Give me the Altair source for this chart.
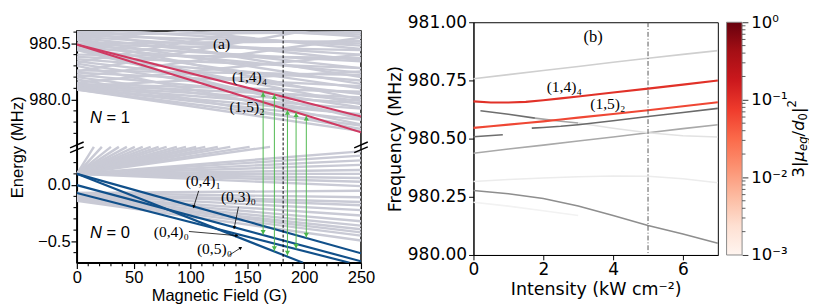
import altair as alt
import pandas as pd

# =====================================================================
# Panel (a): hyperfine/Zeeman levels vs magnetic field, broken energy axis
# =====================================================================
SHIFT = 979.24          # N = 1 energies are drawn at (E - SHIFT) on the broken axis
BREAK = 0.34            # display value where the axis is broken
Y_DOMAIN = [-0.69, 1.37]

# --- grey N = 1 manifold: energy (MHz) at B = 0 and B = 250 G
N1_E0 = [980.09, 980.09, 980.10, 980.10, 980.11, 980.12, 980.13, 980.14,
         980.18, 980.20, 980.22, 980.24, 980.26,
         980.30, 980.32, 980.34, 980.36, 980.38, 980.40,
         980.44, 980.45, 980.46, 980.47, 980.48, 980.49, 980.50,
         980.53, 980.54, 980.55, 980.56, 980.57, 980.58, 980.59,
         980.61, 980.62, 980.63, 980.64, 980.66, 980.70, 980.72,
         980.15, 980.20, 980.25, 980.33, 980.12]
N1_E1 = [979.72, 979.77, 979.82, 979.87, 979.92, 979.97, 980.02, 980.07,
         979.74, 979.86, 979.99, 980.12, 980.22,
         979.78, 979.93, 980.05, 980.17, 980.28, 980.37,
         979.83, 979.96, 980.10, 980.24, 980.34, 980.44, 980.52,
         980.00, 980.14, 980.28, 980.40, 980.50, 980.60, 980.70,
         980.20, 980.35, 980.48, 980.58, 980.68, 980.45, 980.56,
         980.40, 980.55, 980.70, 980.80, 980.25]

# --- grey N = 0 manifold
N0_FAN_START = 0.10                                        # lines that run into the break
N0_FAN_TOP_B = [15, 22, 30, 37, 44, 51, 58, 65, 72, 79, 88, 96, 105, 113, 124, 135, 152, 170]
N0_E0 = [0.10, 0.10, 0.10, 0.10, 0.10, 0.10, 0.10, 0.10, 0.10,
         -0.07, -0.07, -0.08, -0.08, -0.09, -0.10, -0.10, -0.11, -0.12, -0.12, -0.13, -0.14]
N0_E1 = [0.30, 0.262, 0.22, 0.18, 0.134, 0.10, 0.063, 0.03, -0.009,
         -0.05, -0.108, -0.15, -0.179, -0.222, -0.27, -0.321, -0.36, -0.392, -0.42, -0.449, -0.492]

# --- highlighted states
RED_B = [[0, 250], [0, 50, 250]]
RED_E = [[980.49, 979.85], [980.49, 980.33, 979.71]]          # (1,4)4 and (1,5)2
BLUE_B = [[0, 250], [0, 250], [0, 240], [0, 199]]
BLUE_E = [[0.10, -0.606], [0.0, -0.677], [-0.07, -0.69], [0.10, -0.69]]

# --- green transitions
ARROW_B = [163.9, 173.8, 185.3, 192.9, 201.9]
ARROW_E_UP = [980.07, 980.05, 979.91, 979.89, 979.86]
ARROW_E_LOW = [-0.444, -0.59, -0.63, -0.57, -0.47]
B_MARK = 181.5

# --- labels
LAB_TEXT = ["(a)", "(1,4)₄", "(1,5)₂", "(0,4)₁", "(0,3)₀", "(0,4)₀", "(0,5)₀"]
LAB_B = [127.3, 152.0, 149.7, 111.2, 142.2, 83.1, 121.1]
LAB_E = [980.49, 980.20, 979.936, 0.034, -0.108, -0.421, -0.568]
LAB_N = [1, 1, 1, 0, 0, 0, 0]

MAN_B = [11.6, 11.6]
MAN_E = [979.833, -0.427]
MAN_N = [1, 0]
MAN_VAL = ["= 1", "= 0"]

PTR_B0 = [107.2, 142.2, 98.6, 133.8]
PTR_E0 = [-0.051, -0.193, -0.412, -0.625]
PTR_B1 = [102.8, 138.5, 140.8, 144.2]
PTR_E1 = [-0.193, -0.378, -0.449, -0.557]
PTR_ANGLE = [197, 192, 95, 57]

# axis ticks (display coordinates for y)
X_MAJOR = [0, 50, 100, 150, 200, 250]
X_MINOR = [v for v in range(10, 250, 10) if v % 50]
Y_MAJOR_E = [(-0.5, 0), (0.0, 0), (980.0, 1), (980.5, 1)]
Y_MINOR_E = [(-0.6, 0), (-0.4, 0), (-0.3, 0), (-0.2, 0), (-0.1, 0), (0.1, 0), (0.2, 0),
             (979.7, 1), (979.8, 1), (979.9, 1), (980.1, 1), (980.2, 1), (980.3, 1), (980.4, 1),
             (980.6, 1)]


def disp(e, n):
    return round(e - SHIFT, 5) if n == 1 else e


rows = []
for i, (e0, e1) in enumerate(zip(N1_E0, N1_E1)):
    rows.append({"lid": f"t{i}", "B": 0, "y": disp(e0, 1)})
    rows.append({"lid": f"t{i}", "B": 250, "y": disp(e1, 1)})
for i, bt in enumerate(N0_FAN_TOP_B):
    rows.append({"lid": f"f{i}", "B": 0, "y": N0_FAN_START})
    rows.append({"lid": f"f{i}", "B": bt, "y": BREAK})
for i, (e0, e1) in enumerate(zip(N0_E0, N0_E1)):
    rows.append({"lid": f"b{i}", "B": 0, "y": e0})
    rows.append({"lid": f"b{i}", "B": 250, "y": e1})
gray_a = pd.DataFrame(rows)

red_a = pd.DataFrame([{"lid": f"r{i}", "B": b, "y": disp(e, 1)}
                      for i, (bs, es) in enumerate(zip(RED_B, RED_E))
                      for b, e in zip(bs, es)])
blue_a = pd.DataFrame([{"lid": f"u{i}", "B": b, "y": e}
                       for i, (bs, es) in enumerate(zip(BLUE_B, BLUE_E))
                       for b, e in zip(bs, es)])
arrows_rule = pd.DataFrame({"B": ARROW_B, "y": ARROW_E_LOW,
                            "y_hi": [disp(e, 1) for e in ARROW_E_UP]})
arrows_top = pd.DataFrame({"B": ARROW_B, "y": [disp(e, 1) for e in ARROW_E_UP]})
arrows_bot = pd.DataFrame({"B": ARROW_B, "y": ARROW_E_LOW})
labels_a = pd.DataFrame({"B": LAB_B, "y": [disp(e, n) for e, n in zip(LAB_E, LAB_N)],
                         "t": LAB_TEXT})
man_a = pd.DataFrame({"B": MAN_B, "y": [disp(e, n) for e, n in zip(MAN_E, MAN_N)],
                      "v": MAN_VAL})
ptr_line = pd.DataFrame({"B": PTR_B0, "y": PTR_E0, "B2": PTR_B1, "y2": PTR_E1})
ptr_tip = pd.DataFrame({"B": PTR_B1, "y": PTR_E1, "ang": PTR_ANGLE})
brk_a = pd.DataFrame({"B": [0, 250], "y": [BREAK, BREAK]})
mark_a = pd.DataFrame({"B": [B_MARK]})
xminor_a = pd.DataFrame({"B": X_MINOR})
yminor_a = pd.DataFrame({"y": [disp(e, n) for e, n in Y_MINOR_E]})

Y_MAJOR = [disp(e, n) for e, n in Y_MAJOR_E]

SANS_A = "Liberation Sans"
SERIF = "Liberation Serif"
H_A, W_A = 239, 293

x_a = alt.X("B:Q", scale=alt.Scale(domain=[0, 250], nice=False, zero=False),
            axis=alt.Axis(values=X_MAJOR, title="Magnetic Field (G)", format="d",
                          labelFont=SANS_A, titleFont=SANS_A, labelFontSize=17, titleFontSize=17,
                          titleFontWeight="normal", labelColor="black", titleColor="black",
                          domainColor="black", tickColor="black", domainWidth=1.5, tickWidth=1.2,
                          tickSize=6, labelPadding=1, titlePadding=3, labelOverlap=False,
                          labelFlush=False, grid=False))
y_a = alt.Y("y:Q", scale=alt.Scale(domain=Y_DOMAIN, nice=False, zero=False),
            axis=alt.Axis(values=Y_MAJOR, title="Energy (MHz)",
                          labelExpr=(f"datum.value > {BREAK} ? format(datum.value + {SHIFT}, '.1f') "
                                     f": format(datum.value, '.1f')"),
                          labelFont=SANS_A, titleFont=SANS_A, labelFontSize=17, titleFontSize=17,
                          titleFontWeight="normal", labelColor="black", titleColor="black",
                          domainColor="black", tickColor="black", domainWidth=1.5, tickWidth=1.2,
                          tickSize=6, labelPadding=1, titlePadding=2, labelOverlap=False,
                          labelFlush=False, grid=False))

GRAY = "#c9cad5"
RED = "#cf3a62"
BLUE = "#11508a"
GREEN = "#4cb84c"

layers_a = [
    alt.Chart(gray_a).mark_line(color=GRAY, strokeWidth=2.5, clip=True).encode(
        x=x_a, y=y_a, detail="lid:N"),
    alt.Chart(red_a).mark_line(color=RED, strokeWidth=2.2, clip=True).encode(
        x=x_a, y=y_a, detail="lid:N"),
    alt.Chart(blue_a).mark_line(color=BLUE, strokeWidth=2.2, clip=True).encode(
        x=x_a, y=y_a, detail="lid:N"),
    alt.Chart(arrows_rule).mark_rule(color=GREEN, strokeWidth=1).encode(
        x=x_a, y=y_a, y2="y_hi:Q"),
    alt.Chart(arrows_top).mark_point(shape="triangle-up", filled=True, opacity=1,
                                     color=GREEN, size=28, yOffset=3).encode(x=x_a, y=y_a),
    alt.Chart(arrows_bot).mark_point(shape="triangle-down", filled=True, opacity=1,
                                     color=GREEN, size=28, yOffset=-3).encode(x=x_a, y=y_a),
    alt.Chart(mark_a).mark_rule(color="black", strokeWidth=1, strokeDash=[3, 2]).encode(x=x_a),
    alt.Chart(ptr_line).mark_rule(color="black", strokeWidth=0.8).encode(
        x=x_a, y=y_a, x2="B2:Q", y2="y2:Q"),
    alt.Chart(ptr_tip).mark_point(shape="triangle-up", filled=True, opacity=1,
                                  color="black", size=14).encode(
        x=x_a, y=y_a, angle=alt.Angle("ang:Q", scale=None)),
    alt.Chart(labels_a).mark_text(font=SERIF, fontSize=16, color="black").encode(
        x=x_a, y=y_a, text="t:N"),
    alt.Chart(man_a).mark_text(font=SANS_A, fontSize=17, fontStyle="italic", align="left",
                               color="black").encode(x=x_a, y=y_a, text=alt.value("N")),
    alt.Chart(man_a).mark_text(font=SANS_A, fontSize=17, align="left", dx=17,
                               color="black").encode(x=x_a, y=y_a, text="v:N"),
    # axis breaks
    alt.Chart(brk_a).mark_rule(color="black", strokeWidth=1.5, xOffset=-7, x2Offset=7,
                               yOffset=1, y2Offset=-5).encode(x=x_a, y=y_a, x2="B:Q", y2="y:Q"),
    alt.Chart(brk_a).mark_rule(color="black", strokeWidth=1.5, xOffset=-7, x2Offset=7,
                               yOffset=6, y2Offset=0).encode(x=x_a, y=y_a, x2="B:Q", y2="y:Q"),
    # minor ticks
    alt.Chart(xminor_a).mark_rule(color="black", strokeWidth=1.1).encode(
        x=x_a, y=alt.value(H_A), y2=alt.value(H_A + 3.5)),
    alt.Chart(yminor_a).mark_rule(color="black", strokeWidth=1.1).encode(
        y=y_a, x=alt.value(0), x2=alt.value(-3.5)),
]
panel_a = alt.layer(*layers_a).properties(
    width=W_A, height=H_A, view=alt.ViewBackground(stroke="black", strokeWidth=1.5))

spacer = alt.Chart(pd.DataFrame({"z": [0]})).mark_point(opacity=0).encode(
    x=alt.value(0), y=alt.value(0)).properties(
    width=W_A, height=1, view=alt.ViewBackground(stroke=None))
col_a = alt.vconcat(spacer, panel_a, spacing=4)

# =====================================================================
# Panel (b): transition frequencies vs trap intensity
# =====================================================================
INT = [0, 1, 2, 3, 4, 5, 6, 7]
F_TOP = [980.757, 980.775, 980.793, 980.81, 980.828, 980.845, 980.862, 980.878]
F_C = [980.437, 980.455, 980.472, 980.49, 980.507, 980.525, 980.543, 980.56]
F_D = [980.316, 980.324, 980.331, 980.336, 980.339, 980.338, 980.328, 980.31]
F_E = [980.277, 980.263, 980.243, 980.21, 980.17, 980.127, 980.09, 980.05]
A1_I = [0.2, 1.0, 1.76]
A1_F = [980.62, 980.605, 980.588]
A2_I = [1.76, 2.5, 3.0]
A2_F = [980.588, 980.575, 980.567]
A3_I = [3.0, 4, 5, 6, 7]
A3_F = [980.567, 980.545, 980.525, 980.512, 980.507]
BB_I = [1.67, 2, 2.5, 3, 4, 5, 6, 7]
BB_F = [980.545, 980.548, 980.553, 980.56, 980.577, 980.595, 980.612, 980.63]
S_I = [0, 0.84]
S_F = [980.508, 980.517]
F_FAINT_I = [0, 1, 2, 3]
F_FAINT = [980.227, 980.21, 980.19, 980.17]

GRAY_LINES_B = [(INT, F_TOP, "#cfcfcf"), (INT, F_C, "#a9a9a9"), (INT, F_D, "#ececec"),
                (INT, F_E, "#8e8e8e"), (A1_I, A1_F, "#6e6e6e"), (A2_I, A2_F, "#a5a5a5"),
                (A3_I, A3_F, "#e2e2e2"), (BB_I, BB_F, "#6a6a6a"), (S_I, S_F, "#6e6e6e"),
                (F_FAINT_I, F_FAINT, "#f2f2f2")]

I_14 = [0, 0.5, 1, 1.5, 2, 2.5, 3, 4, 5, 6, 7]
F_14 = [980.66, 980.655, 980.655, 980.658, 980.665, 980.673, 980.681, 980.698, 980.715, 980.732, 980.75]
F_15 = [980.546, 980.553, 980.56, 980.567, 980.574, 980.582, 980.59, 980.606, 980.622, 980.639, 980.656]
STRENGTH = [0.1, 0.05]       # 3|mu_eg/d0|^2 of (1,4)4 and (1,5)2

gray_b = pd.DataFrame([{"lid": f"g{k}", "I": i, "F": f, "col": c}
                       for k, (ii, ff, c) in enumerate(GRAY_LINES_B)
                       for i, f in zip(ii, ff)])
red_b = pd.DataFrame([{"lid": name, "I": i, "F": f, "s": s}
                      for name, ff, s in (("a", F_14, STRENGTH[0]), ("b", F_15, STRENGTH[1]))
                      for i, f in zip(I_14, ff)])
lab_b = pd.DataFrame({"I": [3.43, 2.6, 3.85], "F": [980.935, 980.719, 980.65],
                      "t": ["(b)", "(1,4)₄", "(1,5)₂"], "fs": [17, 16, 16]})
I_MARK = 5.0

SANS_B = "DejaVu Sans"
W_B, H_B = 252, 240
x_b = alt.X("I:Q", scale=alt.Scale(domain=[0, 7], nice=False, zero=False),
            axis=alt.Axis(values=[0, 2, 4, 6], title="Intensity (kW cm⁻²)", format="d",
                          labelFont=SANS_B, titleFont=SANS_B, labelFontSize=17.5, titleFontSize=18,
                          titleFontWeight="normal", labelColor="black", titleColor="black",
                          domainColor="black", tickColor="black", tickSize=5, domainWidth=1,
                          labelPadding=1, titlePadding=3, grid=False, labelFlush=False))
y_b = alt.Y("F:Q", scale=alt.Scale(domain=[980, 981], nice=False, zero=False),
            axis=alt.Axis(values=[980, 980.25, 980.5, 980.75, 981], format=".2f",
                          title="Frequency (MHz)",
                          labelFont=SANS_B, titleFont=SANS_B, labelFontSize=17.5, titleFontSize=18,
                          titleFontWeight="normal", labelColor="black", titleColor="black",
                          domainColor="black", tickColor="black", tickSize=5, domainWidth=1,
                          labelPadding=2, titlePadding=3, grid=False, labelFlush=False,
                          labelOverlap=False))

CMAP_DOMAIN = [0.001, 1]
panel_b = alt.layer(
    alt.Chart(gray_b).mark_line(strokeWidth=1.6).encode(
        x=x_b, y=y_b, detail="lid:N", stroke=alt.Stroke("col:N", scale=None)),
    alt.Chart(red_b).mark_line(strokeWidth=2.2).encode(
        x=x_b, y=y_b, detail="lid:N",
        color=alt.Color("s:Q", scale=alt.Scale(type="log", scheme="reds", domain=CMAP_DOMAIN),
                        legend=None)),
    alt.Chart(pd.DataFrame({"I": [I_MARK]})).mark_rule(
        color="#555555", strokeWidth=1, strokeDash=[5, 2, 1, 2]).encode(x=x_b),
    alt.Chart(lab_b).mark_text(font=SERIF, color="black").encode(
        x=x_b, y=y_b, text="t:N", size=alt.Size("fs:Q", scale=None, legend=None)),
).properties(width=W_B, height=H_B, view=alt.ViewBackground(stroke="black", strokeWidth=1))

# =====================================================================
# Colour bar (Reds, log scale) with its title
# =====================================================================
REDS = ["#fff5f0", "#fee0d2", "#fcbba1", "#fc9272", "#fb6a4a",
        "#ef3b2c", "#cb181d", "#a50f15", "#67000d"]
CB_MAJOR = [0.001, 0.01, 0.1, 1]
CB_MINOR = [m * d for d in (0.001, 0.01, 0.1) for m in range(2, 10)]
CB_W = 16

cb_scale = alt.Scale(type="log", domain=CMAP_DOMAIN, nice=False)
cb_axis = alt.Axis(orient="right", values=CB_MAJOR, title=None, domain=False,
                   labelExpr=("datum.value >= 0.99 ? '10⁰' : datum.value >= 0.099 ? '10⁻¹' "
                              ": datum.value >= 0.0099 ? '10⁻²' : '10⁻³'"),
                   labelFont=SANS_B, labelFontSize=17, labelColor="black", tickColor="#333333",
                   tickSize=6, tickWidth=1, labelPadding=3, labelFlush=False, labelOverlap=False,
                   grid=False)
gradient = alt.LinearGradient(
    gradient="linear", x1=0, x2=0, y1=1, y2=0,
    stops=[alt.GradientStop(color=c, offset=k / (len(REDS) - 1)) for k, c in enumerate(REDS)])

CB_PARTS = [("3|", 17, "normal", 0, 0), ("μ", 17, "italic", 0, 16.5), ("eg", 12, "italic", 4, 27.3),
            ("/", 17, "normal", 0, 42.3), ("d", 17, "italic", 0, 48.0), ("0", 12, "normal", 4, 58.8),
            ("|", 17, "normal", 0, 66.4), ("2", 12, "normal", -7, 72.1)]
cb_layers = [
    alt.Chart(pd.DataFrame({"lo": [CMAP_DOMAIN[0]], "hi": [CMAP_DOMAIN[1]]})).mark_rect(
        fill=gradient, stroke="#888888", strokeWidth=1).encode(
        x=alt.value(0), x2=alt.value(CB_W),
        y=alt.Y("lo:Q", scale=cb_scale, axis=cb_axis), y2="hi:Q"),
    alt.Chart(pd.DataFrame({"v": CB_MINOR})).mark_rule(color="#333333", strokeWidth=0.8).encode(
        y=alt.Y("v:Q", scale=cb_scale, axis=cb_axis), x=alt.value(CB_W), x2=alt.value(CB_W + 3.5)),
]
for txt, fs, st, dy, dx in CB_PARTS:
    cb_layers.append(
        alt.Chart(pd.DataFrame({"t": [txt]})).mark_text(
            angle=270, align="left", baseline="middle", font=SANS_B, fontSize=fs,
            fontStyle=st, dx=dx, dy=dy, color="black").encode(
            text="t:N", x=alt.value(75), y=alt.value(160)))
colorbar = alt.layer(*cb_layers).properties(
    width=CB_W, height=H_B, view=alt.ViewBackground(stroke=None))

chart = alt.hconcat(col_a, alt.hconcat(panel_b, colorbar, spacing=3), spacing=11).properties(
    padding={"left": 0, "top": 0, "right": 0, "bottom": 0}
).configure(font=SANS_B, axis=alt.AxisConfig(labelOverlap=False))

chart.save("out.html", embed_options={"renderer": "svg", "actions": False})
